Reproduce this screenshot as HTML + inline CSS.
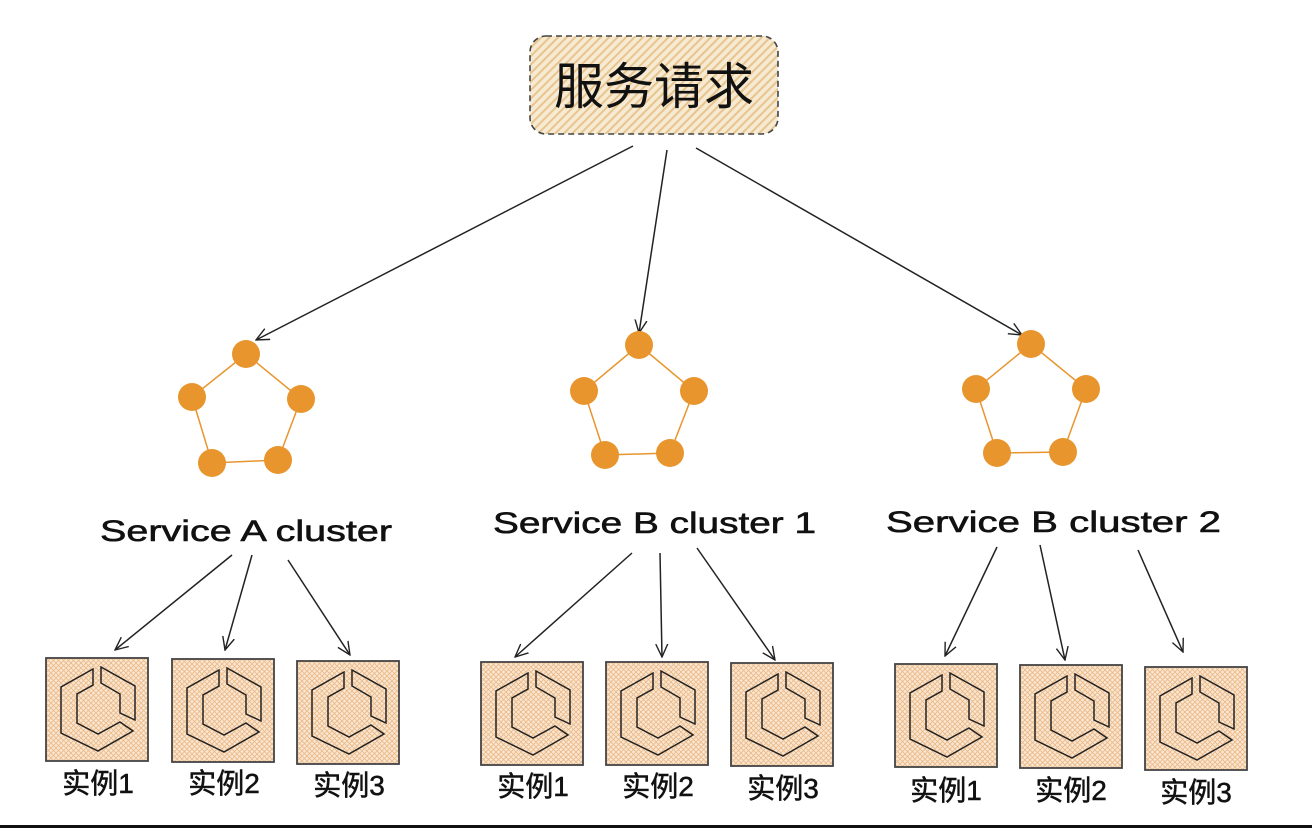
<!DOCTYPE html>
<html><head><meta charset="utf-8"><style>
html,body{margin:0;padding:0;background:#fff;}
svg{display:block;}
</style></head><body>
<svg width="1312" height="828" viewBox="0 0 1312 828" xmlns="http://www.w3.org/2000/svg">
<defs>
<pattern id="diag" width="6" height="6" patternUnits="userSpaceOnUse" patternTransform="rotate(45)">
<rect width="6" height="6" fill="#f6ead2"/><rect width="2" height="6" fill="#e8c48e"/>
</pattern>
<pattern id="hatch" width="5" height="5" patternUnits="userSpaceOnUse">
<rect width="5" height="5" fill="#fbe6cf"/><path d="M0 0L5 5M5 0L0 5" stroke="#e9b98a" stroke-width="0.8"/>
</pattern>
<marker id="ah" markerWidth="14" markerHeight="14" refX="13" refY="7" orient="auto" markerUnits="userSpaceOnUse">
<path d="M0 1L13 7L0 13" fill="none" stroke="#222" stroke-width="1.4"/>
</marker>
<g id="inst">
<rect x="0" y="0" width="102" height="103" fill="url(#hatch)" stroke="#444" stroke-width="1.8"/>
<path d="M47 11L15 29L15 75L52 93L87 73L74 64L52 76L31 65L31 36L47 27Z" fill="none" stroke="#222" stroke-width="1.5"/>
<path d="M55 9L89 28L89 62L74 55L74 36L55 25Z" fill="none" stroke="#222" stroke-width="1.5"/>
</g>
</defs>
<rect width="1312" height="828" fill="#fff"/>
<rect x="530" y="36" width="248" height="98" rx="16" fill="url(#diag)" stroke="#444" stroke-width="1.6" stroke-dasharray="6 4"/>
<text x="654" y="104" text-anchor="middle" font-family="Liberation Sans, Noto Sans CJK SC, sans-serif" font-size="50" fill="#111">服务请求</text>

<g stroke="#222" stroke-width="1.5" fill="none" marker-end="url(#ah)">
<line x1="633" y1="146" x2="256" y2="340"/>
<line x1="667" y1="150" x2="639" y2="333"/>
<line x1="696" y1="148" x2="1022" y2="335"/>
<line x1="232" y1="555" x2="115" y2="650"/>
<line x1="252" y1="555" x2="225" y2="650"/>
<line x1="288" y1="560" x2="350" y2="655"/>
<line x1="632" y1="553" x2="515" y2="657"/>
<line x1="660" y1="553" x2="662" y2="657"/>
<line x1="697" y1="548" x2="775" y2="660"/>
<line x1="997" y1="547" x2="945" y2="656"/>
<line x1="1040" y1="545" x2="1065" y2="660"/>
<line x1="1138" y1="550" x2="1183" y2="652"/>
</g>

<g stroke="#e8952e" stroke-width="1.5" fill="none">
<polygon points="246,354 301,399 278,460 212,463 192,397"/>
<polygon points="639,345 694,391 670,453 605,455 584,391"/>
<polygon points="1031,344 1086,389 1063,452 997,453 976,389"/>
</g>
<g fill="#e8952e">
<circle cx="246" cy="354" r="14"/><circle cx="301" cy="399" r="14"/><circle cx="278" cy="460" r="14"/><circle cx="212" cy="463" r="14"/><circle cx="192" cy="397" r="14"/>
<circle cx="639" cy="345" r="14"/><circle cx="694" cy="391" r="14"/><circle cx="670" cy="453" r="14"/><circle cx="605" cy="455" r="14"/><circle cx="584" cy="391" r="14"/>
<circle cx="1031" cy="344" r="14"/><circle cx="1086" cy="389" r="14"/><circle cx="1063" cy="452" r="14"/><circle cx="997" cy="453" r="14"/><circle cx="976" cy="389" r="14"/>
</g>

<g font-family="Liberation Sans, sans-serif" font-size="30" fill="#111" stroke="#111" stroke-width="0.6">
<text x="100" y="541" textLength="292" lengthAdjust="spacingAndGlyphs">Service A cluster</text>
<text x="493" y="533" textLength="323" lengthAdjust="spacingAndGlyphs">Service B cluster 1</text>
<text x="886" y="532" textLength="335" lengthAdjust="spacingAndGlyphs">Service B cluster 2</text>
</g>

<use href="#inst" x="46" y="658"/><use href="#inst" x="172" y="659"/><use href="#inst" x="297" y="661"/>
<use href="#inst" x="481" y="662"/><use href="#inst" x="606" y="662"/><use href="#inst" x="731" y="663"/>
<use href="#inst" x="895" y="664"/><use href="#inst" x="1020" y="665"/><use href="#inst" x="1145" y="667"/>

<g font-family="Liberation Sans, Noto Sans CJK SC, sans-serif" font-size="28" fill="#111" stroke="#111" stroke-width="0.5" text-anchor="middle">
<text x="98" y="793">实例1</text><text x="224" y="793">实例2</text><text x="349" y="795">实例3</text>
<text x="533" y="796">实例1</text><text x="658" y="796">实例2</text><text x="783" y="798">实例3</text>
<text x="946" y="800">实例1</text><text x="1071" y="800">实例2</text><text x="1196" y="802">实例3</text>
</g>
<rect x="0" y="825" width="1312" height="3" fill="#111"/>
</svg>
</body></html>
